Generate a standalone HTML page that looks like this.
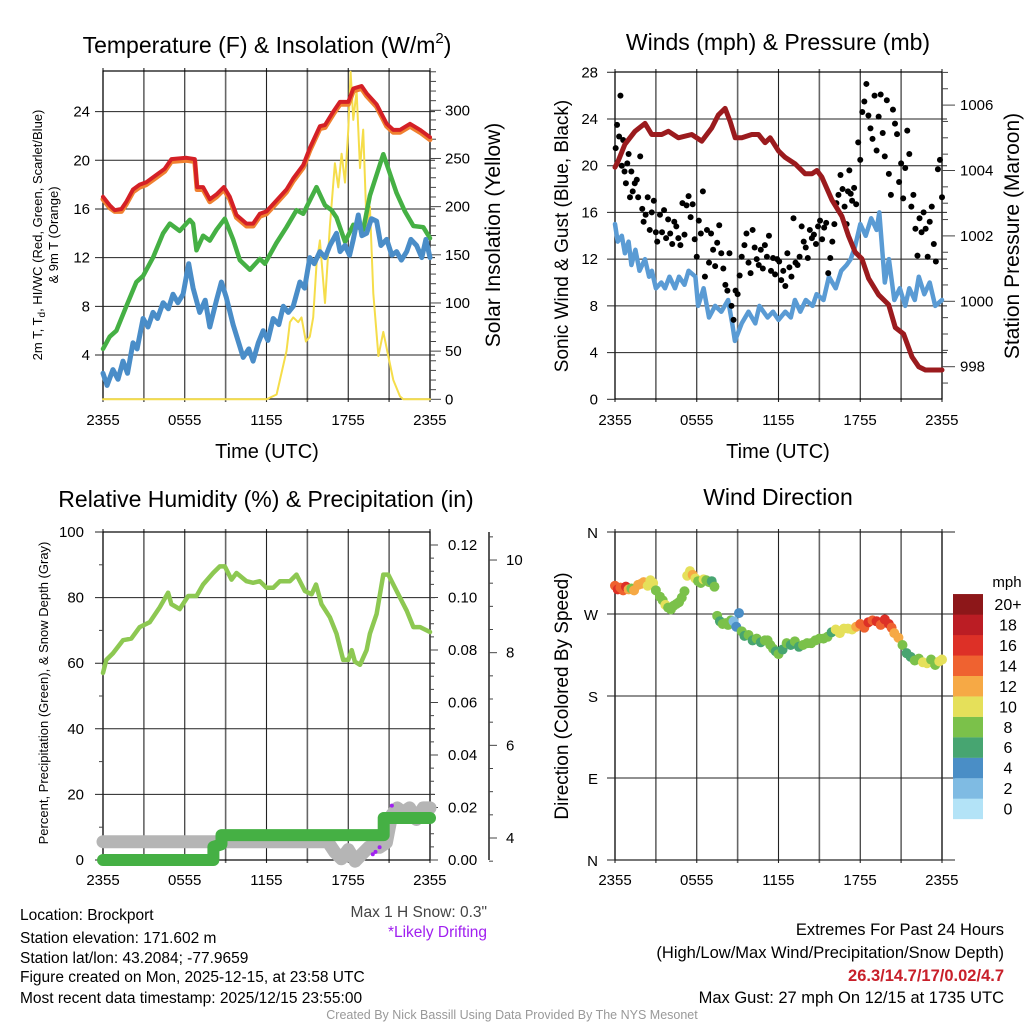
<!DOCTYPE html>
<html><head><meta charset="utf-8"><style>
html,body{margin:0;padding:0;background:#fff;}
svg{display:block;font-family:"Liberation Sans",sans-serif;}
.n{font-family:"Liberation Sans Narrow","Liberation Sans",sans-serif;}
</style></head><body>
<svg id="c" width="1024" height="1024" viewBox="0 0 1024 1024" xmlns="http://www.w3.org/2000/svg"></svg>
<script>
// ---------- DATA ----------
const redT=[0,0.49,0.86,1.35,1.71,2.2,2.69,3.18,3.92,4.53,5.02,6.12,6.74,6.91,7.35,7.84,8.33,8.87,9.31,9.8,10.53,11.02,11.51,12,12.74,13.47,13.96,14.69,15.18,15.92,16.29,16.9,17.39,18,18.37,18.98,19.35,20.08,20.82,21.31,21.8,22.53,23.27,24];
const redV=[17,16.3,15.9,16,16.6,17.6,18,18.2,18.8,19.3,20.1,20.2,20.1,17.8,17.8,16.8,17.2,17.8,17,15.5,14.8,14.8,15.6,15.8,16.7,17.6,18.5,19.6,21,22.8,22.9,24,24.8,24.8,25.9,26.1,25.5,24.6,23,22.5,22.5,23,22.5,21.9];
const orangeV=[16.8,16.1,15.8,15.8,16.4,17.4,17.8,18,18.6,19.1,19.9,20,19.9,17.6,17.6,16.6,17,17.6,16.8,15.3,14.6,14.6,15.4,15.6,16.5,17.4,18.3,19.4,20.8,22.6,22.7,23.8,24.6,24.6,25.7,25.9,25.3,24.4,22.8,22.3,22.3,22.8,22.3,21.7];
const greenT=[0,0.49,0.98,1.71,2.45,2.94,3.67,4.41,4.9,5.63,6.37,6.61,6.86,7.35,7.84,8.33,8.94,9.55,10.04,10.78,11.51,11.88,12.73,13.47,14.2,14.69,15.67,16.29,16.78,17.14,17.76,18.37,19.1,19.59,20.57,20.94,21.55,22.16,22.78,23.51,24];
const greenV=[4.5,5.5,6,8,10,10.5,12,14,14.8,14.2,15.1,14.8,12.6,13.8,13.4,14.3,15.2,13.5,11.8,11,11.9,11.5,13.2,14.5,15.9,15.6,17.8,16.3,15.9,15.3,13.3,14.7,14.3,17.1,20.5,19.3,17.3,15.8,14.6,14.5,13.6];
const blueT=[0,0.3,0.73,1.1,1.47,1.8,2.2,2.5,2.94,3.3,3.67,4.0,4.41,4.8,5.14,5.5,5.88,6.29,6.61,7.1,7.5,7.84,8.33,8.69,9.06,9.55,10.29,10.7,11.02,11.4,11.76,12.1,12.49,12.9,13.23,13.6,13.96,14.45,14.8,15.18,15.5,15.92,16.3,16.65,17.14,17.4,17.76,18.1,18.37,18.74,19.0,19.35,19.7,20.08,20.4,20.82,21.2,21.55,21.9,22.29,22.6,23.02,23.4,23.7,24];
const blueV=[2.5,1.5,2.8,2,3.5,2.5,5,4.5,7,6.3,7.5,7,8.3,7.8,9,8.3,9,11.5,9.5,7.5,8.5,6.3,8.5,10,8.7,6.5,3.8,4.5,3.5,5,6,5.2,7,6.5,8,7.5,8,10,9.5,12,11.5,12.5,12,13,14,12.5,13,12.2,13.5,15.5,13.8,14,15.2,15,13,13.5,12.2,12.5,11.8,12.5,13.5,13,12,13.5,12];
const solT=[0,12,12.74,13.47,13.72,13.96,14.33,14.57,14.89,15.18,15.43,15.67,15.92,16.29,16.65,17.02,17.27,17.51,17.76,18,18.17,18.37,18.61,18.86,19.1,19.35,19.59,19.84,20.21,20.57,20.94,21.31,21.8,22.04,24];
const solV=[0,0,5,50,80,85,80,85,60,65,85,140,165,100,180,245,220,255,225,280,340,290,320,240,280,180,200,110,45,70,45,20,3,0,0];

const rhT=[0,0.24,0.73,1.47,2.08,2.69,3.43,4.16,4.78,5.02,5.63,6.25,6.86,7.35,8.08,8.57,8.94,9.43,9.8,10.53,11.02,11.51,12,12.49,12.98,13.72,14.2,14.82,15.31,15.63,16.04,16.65,17.14,17.63,18,18.25,18.49,18.86,19.35,19.59,20.08,20.57,20.94,21.31,21.8,22.29,22.78,23.27,24];
const rhV=[57,61,63,67,67.5,71,72.5,77,81.5,78,76.5,80.5,80.5,84,87.5,89.5,89.5,85.5,87.5,85,84.5,85,83,83,85,85,87,82,81,84,78,74,69,61,61,64,60.5,59.5,64,69,75,87,87,84,80,76,71,71,69.5];
const precT=[0,8.1,8.1,8.7,8.7,20.6,20.6,24];
const precV=[0,0,0.005,0.006,0.0095,0.0095,0.016,0.016];
const snowT=[0,16.5,17,17.5,18,18.5,19,19.5,20.3,20.8,21.2,21.6,22,22.5,23,23.5,24];
const snowV=[3.92,3.92,3.7,3.55,3.75,3.5,3.65,3.8,3.8,3.9,4.5,4.65,4.55,4.65,4.4,4.65,4.65];
const driftT=[19.8,20.0,20.3,20.7,21.0,21.2];
const driftV=[3.65,3.7,3.8,4.1,4.4,4.7];

const presT=[0,0.24,0.73,1.47,2.2,2.69,3.43,3.92,4.65,5.63,6.37,7.1,7.59,8.08,8.45,8.82,9.31,10.04,10.53,11.02,11.39,12,12.49,13.23,13.96,14.45,14.82,15.18,15.92,16.65,17.14,17.63,18.12,18.61,19.35,20.08,20.57,21.18,21.8,22.29,22.78,24];
const presV=[1004.1,1004.3,1004.8,1005.2,1005.44,1005.1,1005.1,1005.2,1005.0,1005.1,1004.9,1005.3,1005.7,1005.9,1005.5,1005.0,1005.0,1005.1,1005.1,1004.85,1005.0,1004.6,1004.4,1004.2,1003.9,1003.9,1004.0,1003.8,1003.1,1002.6,1002.0,1001.5,1001.3,1000.7,1000.2,999.9,999.2,999.0,998.3,998.0,997.9,997.9];
const windT=[0,0.2,0.5,0.73,1.0,1.2,1.5,1.8,2.2,2.5,2.7,3.0,3.4,3.67,4.0,4.4,4.7,5.1,5.4,5.9,6.1,6.5,6.9,7.35,7.8,8.3,8.6,8.8,9.3,9.8,10.3,10.6,11.2,11.6,12.0,12.5,12.9,13.2,13.6,14.0,14.5,14.8,15.3,15.7,16.2,16.6,17.0,17.3,17.6,18.0,18.4,18.8,19.2,19.4,19.8,20.1,20.5,20.9,21.3,21.6,22.0,22.3,22.7,23.1,23.5,24];
const windV=[15,13.5,14,12.5,13.5,11.5,12.8,11,12,10.5,11,9.5,10,9.5,10.5,9.5,10.5,9.8,11,10.5,8,9.5,7,8,7.5,8.5,6.5,5,6.5,7.5,6.5,8,7,7.5,6.8,7.5,7,8.5,7.5,8.5,8,9,8.5,10.5,9.5,11,11.5,12,13,15,14,15.5,14.5,16,10,12,8.5,9.5,8,9.5,8.5,10.5,9,10,8,8.5];
const gustT=[0.05,0.15,0.3,0.4,0.5,0.6,0.7,0.8,0.9,1.0,1.1,1.2,1.3,1.45,1.6,1.7,1.85,2.0,2.1,2.25,2.4,2.55,2.7,2.85,3.0,3.1,3.3,3.45,3.6,3.75,3.9,4.05,4.2,4.35,4.5,4.65,4.8,4.95,5.1,5.25,5.4,5.55,5.7,5.85,6.0,6.15,6.3,6.45,6.6,6.75,6.9,7.05,7.2,7.35,7.5,7.65,7.8,7.95,8.1,8.25,8.4,8.55,8.7,8.85,9.0,9.15,9.3,9.5,9.65,9.8,9.95,10.1,10.25,10.4,10.55,10.7,10.85,11.0,11.15,11.3,11.45,11.6,11.75,11.9,12.05,12.2,12.35,12.5,12.65,12.8,12.95,13.1,13.25,13.4,13.55,13.7,13.85,14.0,14.15,14.3,14.45,14.6,14.75,14.9,15.05,15.2,15.35,15.5,15.65,15.8,15.95,16.1,16.25,16.4,16.55,16.7,16.85,17.0,17.1,17.2,17.3,17.4,17.55,17.7,17.85,18.0,18.15,18.3,18.45,18.6,18.75,18.9,19.05,19.2,19.35,19.5,19.65,19.8,19.95,20.1,20.25,20.4,20.55,20.7,20.85,21.0,21.15,21.3,21.45,21.6,21.75,21.9,22.05,22.2,22.35,22.5,22.65,22.8,22.95,23.1,23.25,23.4,23.55,23.7,23.85,24.0];
const gustV=[21.5,23.5,22.5,26,20,22.2,19.5,18.5,20.2,21,17.3,19.5,17.8,18.5,18.8,17.3,20.8,16.3,15.2,15.8,17.3,14.5,16,17,14.3,13.5,15.8,14.3,16.2,13.8,15.4,14.2,13.3,15.2,14.8,13.8,13.2,16.8,14.1,16.6,17.4,15.6,16.7,13.7,12.2,15.3,14.2,17.8,10.5,14.5,11.7,14.2,12.8,11.4,13.4,14.9,12.5,11.2,9.8,9.3,12.5,8.0,6.8,9.3,9.0,10.6,12.2,13.2,14.2,11.7,10.8,14.5,13.0,12.0,11.5,12.8,11.2,13.2,12.2,14.0,11.0,12.1,10.7,12.0,11.8,10.2,11.0,9.7,12.5,11.3,10.5,15.5,11.7,11.5,12.2,14.8,13.5,13.0,12.1,14.5,13.8,14.1,13.3,14.8,15.3,13.7,14.7,15.1,10.8,12.1,13.5,15.0,16.8,17.5,19.2,18.0,16.5,15.0,17.8,19.6,17.6,17.0,18.1,16.7,22.0,20.5,24.6,25.5,27.0,24.3,23.2,22.3,26.0,21.3,24.2,26.1,22.8,20.8,25.6,19.3,17.5,24.8,23.6,22.7,18.6,20.2,17.2,19.8,23.0,21.0,16.5,17.5,14.6,12.3,15.5,14.3,16.0,14.6,12.2,15.2,16.5,13.3,11.8,19.7,20.5,17.3,15.6,21.2,18.0,15.8,19.3,13.5,17.8,21.8,15.2,16.9,17.0];

const dirT=[0,0.2,0.4,0.6,0.8,1.0,1.2,1.4,1.7,1.9,2.1,2.4,2.6,2.8,3.0,3.3,3.5,3.7,3.9,4.1,4.3,4.5,4.7,4.9,5.1,5.3,5.5,5.7,5.9,6.1,6.3,6.5,6.7,6.9,7.1,7.3,7.5,7.7,7.9,8.1,8.3,8.5,8.7,8.9,9.1,9.3,9.5,9.8,10.1,10.4,10.7,11.0,11.2,11.4,11.6,11.8,12.0,12.3,12.6,12.9,13.2,13.5,13.8,14.1,14.4,14.7,15.0,15.3,15.6,15.9,16.2,16.5,16.8,17.1,17.4,17.7,18.0,18.3,18.6,18.9,19.2,19.5,19.8,20.1,20.3,20.5,20.8,21.1,21.4,21.7,22.0,22.3,22.6,22.9,23.2,23.5,23.8,24];
const dirV=[301,297,299,296,300,297,298,296,302,303,305,301,307,304,296,289,285,280,277,275,279,281,283,288,295,312,317,313,309,306,304,308,307,305,306,300,268,262,259,260,258,263,262,256,271,251,246,247,241,243,239,241,241,236,232,229,226,231,238,236,240,234,236,238,238,241,243,243,245,250,253,249,254,254,253,256,259,255,261,263,262,258,264,259,255,249,244,236,227,223,219,221,217,216,220,214,218,220];
const dirSpd=[15,16,15,14,16,13,9,12,13,13,12,10,11,10,8,8,9,10,8,8,9,9,8,8,9,10,11,12,10,9,8,10,8,8,6,8,8,7,8,8,8,8,3,4,4,8,6,8,7,8,7,8,8,9,8,7,8,7,8,6,8,7,9,8,8,8,9,8,8,7,10,10,10,10,10,12,14,15,17,15,16,15,17,16,14,12,12,8,7,6,8,9,10,10,8,9,10,10];

// ---------- SCALES ----------
const xL=t=>103+t*13.625, xR=t=>615+t*13.625;
const yT=v=>399.3-(v-0.36)*12.17, ySol=v=>399.3-v*0.9633;
const yW=v=>399.3-v*11.68, yP=p=>366.7-(p-998)*32.7;
const yRH=v=>860-v*3.28, yPr=v=>860-v*2625, ySn=v=>838-(v-4)*46.33;
const yD=d=>860-d*0.9111;

const svg=document.getElementById('c');
const NS='http://www.w3.org/2000/svg';
function el(tag,attrs,parent){const e=document.createElementNS(NS,tag);for(const k in attrs)e.setAttribute(k,attrs[k]);(parent||svg).appendChild(e);return e;}
function txt(s,x,y,size,anchor,extra,parent){const e=el('text',Object.assign({x:x,y:y,'font-size':size,'text-anchor':anchor||'middle',fill:'#000'},extra||{}),parent);e.textContent=s;return e;}
function poly(ts,vs,fx,fy,color,w,name,parent){
  const d=ts.map((t,i)=>(i?'L':'M')+fx(t).toFixed(1)+','+fy(vs[i]).toFixed(1)).join('');
  const p=el('path',{d:d,fill:'none',stroke:color,'stroke-width':w,'stroke-linejoin':'round','stroke-linecap':'round'},parent);
  
  
  return p;
}
function frame(x0,x1,y0,y1,name){
  const g=el('g',{});
  
  
  for(let i=0;i<=8;i++){const x=x0+i*(x1-x0)/8;el('line',{x1:x,y1:y0-3,x2:x,y2:y1+3,stroke:i%2?'#666':'#222','stroke-width':i%2?1.6:1.1},g);}
  el('rect',{x:x0,y:y0,width:x1-x0,height:y1-y0,fill:'none',stroke:'#000','stroke-width':1.2},g);
  return g;
}
function hgrid(vals,fy,x0,x1,g){vals.forEach(v=>{el('line',{x1:x0-8,y1:fy(v),x2:x1+5,y2:fy(v),stroke:'#222','stroke-width':1},g);});}
function xlabels(x0,y){['2355','0555','1155','1755','2355'].forEach((s,i)=>{const t=txt(s,x0+i*81.7,y,15);});}

// ===== Panel 1: Temperature =====
let g=frame(103,430,71,399,'temperature-panel');
hgrid([4,8,12,16,20,24],yT,103,430,g);
[4,8,12,16,20,24].forEach(v=>txt(String(v),90,yT(v)+5,15,'end',{},g));
for(let v=0;v<=340;v+=10){el('line',{x1:430,y1:ySol(v),x2:v%50?436:441,y2:ySol(v),stroke:'#444','stroke-width':1},g);}
[0,50,100,150,200,250,300].forEach(v=>txt(String(v),445,ySol(v)+5,15,'start',{},g));
poly(solT,solV,xL,ySol,'#f5dd4a',2,'solar-insolation-line');
poly(greenT,greenV,xL,yT,'#45b044',4.5,'dewpoint-line');
poly(blueT,blueV,xL,yT,'#4a8dc8',5,'wind-chill-line');
poly(redT,orangeV,xL,yT,'#f08030',5,'temp-9m-line');
poly(redT,redV,xL,yT,'#d42026',4,'temp-2m-line');
xlabels(103,425);
txt('Time (UTC)',267,458,20,'middle',{});
let t1=el('text',{x:267,y:53,'font-size':23,'text-anchor':'middle'});


let ts1=el('tspan',{},t1);ts1.textContent='Temperature (F) & Insolation (W/m';
let ts2=el('tspan',{'font-size':15,dy:-10},t1);ts2.textContent='2';
let ts3=el('tspan',{dy:10},t1);ts3.textContent=')';
let yl=el('text',{x:0,y:0,'font-size':13,'text-anchor':'middle',transform:'translate(42,235) rotate(-90)'});yl.textContent='2m T, T';
let sub=el('tspan',{'font-size':10,dy:3},yl);sub.textContent='d';
let rest=el('tspan',{dy:-3},yl);rest.textContent=', HI/WC (Red, Green, Scarlet/Blue)';

txt('& 9m T (Orange)',0,0,13,'middle',{transform:'translate(58,235) rotate(-90)'});
txt('Solar Insolation (Yellow)',0,0,21,'middle',{transform:'translate(500,235) rotate(-90)',});

// ===== Panel 2: Winds =====
g=frame(615,942,72,399,'winds-panel');
hgrid([4,8,12,16,20,24],yW,615,942,g);
el('line',{x1:607,y1:yW(28),x2:615,y2:yW(28),stroke:'#222'},g);el('line',{x1:607,y1:yW(0),x2:615,y2:yW(0),stroke:'#222'},g);
[0,4,8,12,16,20,24,28].forEach(v=>txt(String(v),598,yW(v)+5,15,'end',{},g));
for(let p=997.5;p<=1007;p+=0.5){el('line',{x1:942,y1:yP(p),x2:p%2===0?955:948,y2:yP(p),stroke:'#444'},g);}
[998,1000,1002,1004,1006].forEach(v=>txt(String(v),960,yP(v)+5,15,'start',{},g));
poly(windT,windV,xR,yW,'#5a9bd4',4.5,'sonic-wind-line');
const gg=el('g',{});
gustT.forEach((t,i)=>{const c=el('circle',{cx:xR(t),cy:yW(gustV[i]),r:3,fill:'#000'},gg);});
poly(presT,presV,xR,yP,'#9b1b1e',5,'pressure-line');
xlabels(615,425);
txt('Time (UTC)',778,458,20,'middle');
txt('Winds (mph) & Pressure (mb)',778,50,23,'middle',{});
txt('Sonic Wind & Gust (Blue, Black)',0,0,19,'middle',{transform:'translate(568,236) rotate(-90)'});
txt('Station Pressure (Maroon)',0,0,21,'middle',{transform:'translate(1019,236) rotate(-90)'});

// ===== Panel 3: RH =====
g=frame(103,430,532,860,'humidity-panel');
hgrid([20,40,60,80],yRH,103,430,g);
el('line',{x1:95,y1:yRH(100),x2:103,y2:yRH(100),stroke:'#222'},g);el('line',{x1:95,y1:yRH(0),x2:103,y2:yRH(0),stroke:'#222'},g);
for(let v=10;v<100;v+=20)el('line',{x1:99,y1:yRH(v),x2:103,y2:yRH(v),stroke:'#444'},g);
[0,20,40,60,80,100].forEach(v=>txt(String(v),84,yRH(v)+5,15,'end',{},g));
for(let v=0;v<=0.1201;v+=0.005){const m=Math.round(v*1000)%20===0;el('line',{x1:430,y1:yPr(v),x2:m?438:434,y2:yPr(v),stroke:'#444'},g);}
['0.00','0.02','0.04','0.06','0.08','0.10','0.12'].forEach(s=>txt(s,448,yPr(parseFloat(s))+5,15,'start',{},g));
el('line',{x1:489,y1:532,x2:489,y2:860,stroke:'#222','stroke-width':1.5},g);
for(let v=3.5;v<=10.6;v+=0.5){el('line',{x1:489,y1:ySn(v),x2:v%2===0?497:493,y2:ySn(v),stroke:'#444'},g);}
[4,6,8,10].forEach(v=>txt(String(v),506,ySn(v)+5,15,'start',{},g));
poly(snowT,snowV,xL,ySn,'#b5b5b5',13,'snow-depth-line');
const dg=el('g',{});
driftT.forEach((t,i)=>{const c=el('circle',{cx:xL(t),cy:ySn(driftV[i]),r:2,fill:'#a020f0'},dg);});
poly(precT,precV,xL,yPr,'#45b044',12,'precipitation-line');
poly(rhT,rhV,xL,yRH,'#8dc852',4.5,'humidity-line');
xlabels(103,885);
txt('Relative Humidity (%) & Precipitation (in)',266,507,23,'middle',{});
txt('Percent, Precipitation (Green), & Snow Depth (Gray)',0,0,13,'middle',{transform:'translate(48,693) rotate(-90)'});

// ===== Panel 4: Wind direction =====
g=frame(615,942,532,860,'direction-panel');
hgrid([360,270,180,90,0],yD,615,950,g);
[['N',360],['W',270],['S',180],['E',90],['N',0]].forEach(a=>txt(a[0],598,yD(a[1])+6,15,'end',{},g));
const colors=['#b3e3f7','#7fbbe3','#4a8ec6','#47a571','#7bc14a','#e5e05a','#f6a945','#ef6230','#dd3027','#bb1d24','#8d1719'];
const binLabels=['0','2','4','6','8','10','12','14','16','18','20+'];
const dgp=el('g',{});
dirT.forEach((t,i)=>{const b=Math.min(10,Math.floor(dirSpd[i]/2));const c=el('circle',{cx:xR(t),cy:yD(dirV[i]),r:5,fill:colors[b]},dgp);});
const cb=el('g',{});
colors.forEach((c,i)=>{const y=819-(i+1)*20.45;el('rect',{x:953,y:y,width:30,height:20.6,fill:c},cb);txt(binLabels[i],1008,y+16,16,'middle',{},cb);});
txt('mph',1007,587,15,'middle',{},cb);
xlabels(615,885);
txt('Wind Direction',778,505,23,'middle',{});
txt('Direction (Colored By Speed)',0,0,19,'middle',{transform:'translate(568,696) rotate(-90)'});

// ===== Text info =====
const info=['Location: Brockport','Station elevation: 171.602 m','Station lat/lon: 43.2084; -77.9659','Figure created on Mon, 2025-12-15, at 23:58 UTC','Most recent data timestamp: 2025/12/15 23:55:00'];
[920,943,963,982,1003].forEach((y,i)=>{const t=txt(info[i],20,y,15.5,'start',{class:'n'});});
txt('Max 1 H Snow: 0.3"',487,917,15.5,'end',{class:'n',fill:'#444',});
txt('*Likely Drifting',487,937,15.5,'end',{class:'n',fill:'#a020f0',});
txt('Extremes For Past 24 Hours',1004,935,16.5,'end',{class:'n',});
txt('(High/Low/Max Wind/Precipitation/Snow Depth)',1004,958,16.5,'end',{class:'n'});
txt('26.3/14.7/17/0.02/4.7',1004,981,16.5,'end',{class:'n',fill:'#c8202a','font-weight':'bold',});
txt('Max Gust: 27 mph On 12/15 at 1735 UTC',1004,1003,16.5,'end',{class:'n',});
txt('Created By Nick Bassill Using Data Provided By The NYS Mesonet',512,1019,12.5,'middle',{class:'n',fill:'#999',});
</script>
</body></html>
